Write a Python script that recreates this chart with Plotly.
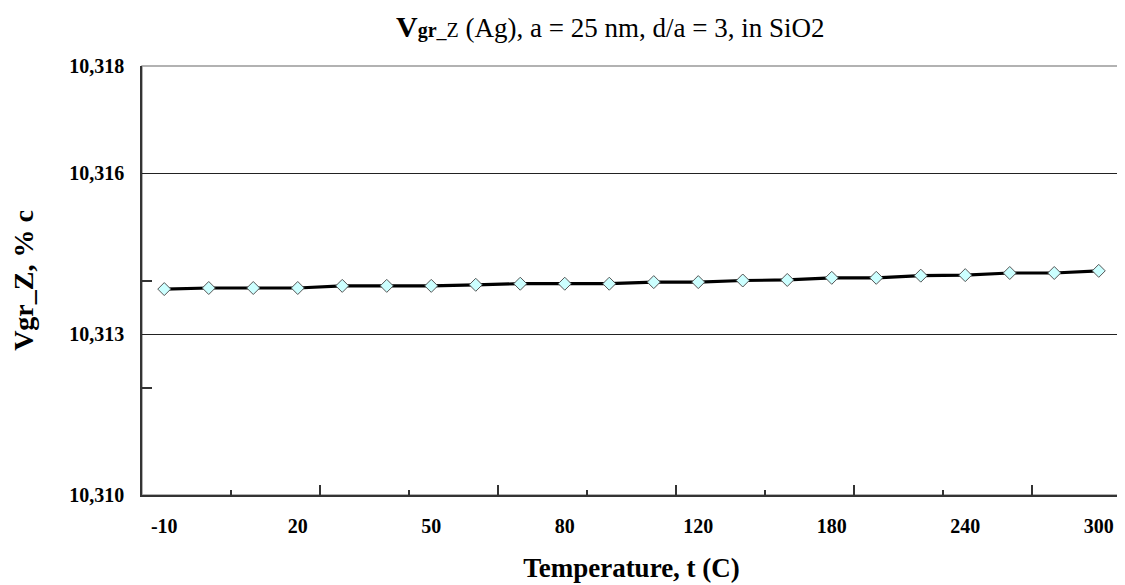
import plotly.graph_objects as go

# ---- data ----
temperatures = ["-10", "0", "10", "20", "30", "40", "50", "60", "70", "80", "90", "100",
                "120", "140", "160", "180", "200", "220", "240", "260", "280", "300"]
vgr_z = [10.31384, 10.31386, 10.31386, 10.31386, 10.31390, 10.31390, 10.31390, 10.31392,
         10.31394, 10.31394, 10.31394, 10.31397, 10.31397, 10.31400, 10.31401, 10.31405,
         10.31405, 10.31409, 10.31410, 10.31414, 10.31414, 10.31418]
y_tick_vals = [10.310, 10.313, 10.316, 10.318]
y_tick_text = ["10,310", "10,313", "10,316", "10,318"]
y_minor_ticks = [10.312, 10.314]

idx = list(range(len(temperatures)))
label_idx = idx[::3]
label_text = [temperatures[i] for i in label_idx]
long_ticks = [i + 0.5 for i in range(3, len(idx) - 1, 4)]
short_ticks = [i + 0.5 for i in range(1, len(idx), 4)]

SERIF = "Liberation Serif"

fig = go.Figure()
fig.add_trace(go.Scatter(
    x=idx, y=vgr_z, mode="lines+markers",
    line=dict(color="black", width=3.2),
    marker=dict(symbol="diamond", size=10, color="#CCFFFF",
                line=dict(color="#555555", width=1)),
    showlegend=False, hoverinfo="x+y",
))
# invisible trace to host the tick-mark axis
fig.add_trace(go.Scatter(
    x=idx, y=vgr_z, xaxis="x2", mode="markers", marker=dict(opacity=0),
    showlegend=False, hoverinfo="skip",
))

xr = [-0.5, len(idx) - 0.5]
fig.update_layout(
    width=1117, height=577,
    margin=dict(l=134, r=4, t=58, b=90),
    paper_bgcolor="white", plot_bgcolor="white",
    font=dict(family=SERIF, color="black"),
    xaxis=dict(
        range=xr, tickmode="array", tickvals=label_idx, ticktext=label_text,
        showgrid=False, zeroline=False, ticks="", showline=True,
        linecolor="#333333", linewidth=1.5, automargin=False,
        tickfont=dict(family=SERIF, size=20, color="black", weight="bold"),
        ticklabelstandoff=12,
        title=dict(text="<b>Temperature, t (C)</b>",
                   font=dict(family=SERIF, size=27, color="black"), standoff=22),
    ),
    xaxis2=dict(
        range=xr, overlaying="x", anchor="y", side="bottom", automargin=False,
        tickmode="array", tickvals=long_ticks, ticks="inside", ticklen=10,
        tickwidth=1.5, tickcolor="#333333", showticklabels=False,
        showgrid=False, zeroline=False, showline=False,
        minor=dict(tickmode="array", tickvals=short_ticks, ticks="inside",
                   ticklen=5, tickwidth=1.5, tickcolor="#333333", showgrid=False),
    ),
    yaxis=dict(
        range=[10.310, 10.318], tickmode="array", tickvals=y_tick_vals,
        ticktext=y_tick_text, showgrid=True, gridcolor="#222222", gridwidth=1.2,
        zeroline=False, ticks="", showline=True, linecolor="#333333", linewidth=1.5,
        automargin=False,
        tickfont=dict(family=SERIF, size=20, color="black", weight="bold"),
        ticklabelstandoff=12,
        minor=dict(tickmode="array", tickvals=y_minor_ticks, ticks="inside",
                   ticklen=10, tickwidth=1.5, tickcolor="#333333", showgrid=False),
        title=dict(text="<b>Vgr_Z, % c</b>",
                   font=dict(family=SERIF, size=28, color="black"), standoff=27),
    ),
    shapes=[dict(type="rect", xref="paper", yref="paper", x0=0, x1=1, y0=0, y1=1,
                 line=dict(color="#999999", width=1.5), layer="below")],
    annotations=[dict(
        xref="paper", yref="paper", x=0.478, y=1.093, xanchor="center", yanchor="middle",
        showarrow=False,
        text=("<span style='font-size:30px'><b>V</b></span>"
              "<span style='font-size:20px'><b>gr</b>_Z</span>"
              " (Ag), a = 25 nm, d/a = 3, in SiO2"),
        font=dict(family=SERIF, size=27, color="black"),
    )],
)

fig.write_html("out.html")
